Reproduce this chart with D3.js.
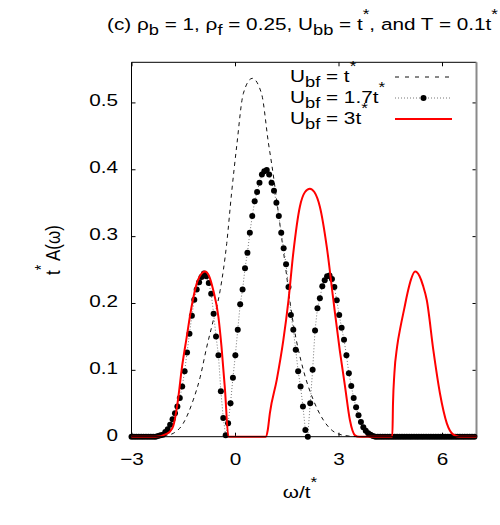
<!DOCTYPE html>
<html>
<head>
<meta charset="utf-8">
<script src="https://cdn.jsdelivr.net/npm/d3@7"></script>
<style>
body { margin: 0; background: #fff; }
svg { display: block; }
text { font-family: "Liberation Sans", Arial, Helvetica, sans-serif; fill: #000; }
</style>
</head>
<body>
<div id="chart"></div>
<script>
// axis ticks
const xTicks = [-3, 0, 3, 6];
const yTicks = [0, 0.1, 0.2, 0.3, 0.4, 0.5];
const yTickLabels = ["0", "0.1", "0.2", "0.3", "0.4", "0.5"];

// U_bf = t*  (dashed), [omega, A]
const curveT1 = [
  [-3, 0], [-2.4, 0], [-2.0, 0.002], [-1.79, 0.005], [-1.5, 0.020], [-1.21, 0.055],
  [-1.01, 0.089], [-0.82, 0.134], [-0.63, 0.174], [-0.43, 0.219], [-0.24, 0.289],
  [-0.10, 0.364], [0.05, 0.435], [0.24, 0.513], [0.50, 0.536], [0.77, 0.513],
  [0.97, 0.439], [1.06, 0.409], [1.40, 0.279], [1.69, 0.169], [1.98, 0.100],
  [2.27, 0.055], [2.56, 0.025], [2.95, 0.005], [3.3, 0.001], [3.6, 0], [7, 0]
];

// U_bf = 1.7t*  (points), sampled from omega = -3 every 0.07
const dotStart = -3;
const dotStep = 0.07;
const curveT17 = [
  0, 0, 0, 0, 0, 0, 0, 0, 0, 0,
  0, 0.001, 0.002, 0.003, 0.007, 0.011, 0.018, 0.026, 0.035, 0.045,
  0.058, 0.075, 0.098, 0.126, 0.154, 0.181, 0.205, 0.220, 0.231, 0.239,
  0.244, 0.240, 0.230, 0.214, 0.184, 0.150, 0.122, 0.068, 0.028, 0.002,
  0.020, 0.050, 0.088, 0.122, 0.160, 0.198, 0.220, 0.252, 0.275, 0.305,
  0.330, 0.352, 0.366, 0.380, 0.392, 0.397, 0.399, 0.392, 0.380, 0.368,
  0.350, 0.330, 0.305, 0.282, 0.258, 0.224, 0.182, 0.160, 0.130, 0.098,
  0.075, 0.045, 0.010, 0.000, 0.050, 0.100, 0.159, 0.192, 0.207, 0.225,
  0.234, 0.240, 0.241, 0.236, 0.224, 0.204, 0.182, 0.163, 0.145, 0.122,
  0.095, 0.076, 0.058, 0.044, 0.032, 0.022, 0.014, 0.009, 0.005, 0.003,
  0.001, 0, 0, 0, 0, 0, 0, 0, 0, 0,
  0, 0, 0, 0, 0, 0, 0, 0, 0, 0,
  0, 0, 0, 0, 0, 0, 0, 0, 0, 0,
  0, 0, 0, 0, 0, 0, 0, 0, 0, 0,
  0, 0, 0
];

// U_bf = 3t  (red)
const curveT3 = [
  [-3, 0], [-2.3, 0], [-2.0, 0.004], [-1.88, 0.008], [-1.79, 0.016], [-1.64, 0.060],
  [-1.55, 0.099], [-1.40, 0.149], [-1.26, 0.194], [-1.11, 0.229], [-0.97, 0.244],
  [-0.87, 0.247], [-0.75, 0.240], [-0.63, 0.219], [-0.48, 0.179], [-0.39, 0.134],
  [-0.29, 0.070], [-0.19, 0], [0.89, 0], [0.95, 0.010], [1.01, 0.035], [1.21, 0.085],
  [1.40, 0.144], [1.55, 0.204], [1.69, 0.275], [1.88, 0.344], [2.03, 0.366],
  [2.17, 0.371], [2.30, 0.366], [2.46, 0.344], [2.66, 0.284], [2.85, 0.205],
  [3.04, 0.128], [3.19, 0.075], [3.33, 0.025], [3.48, 0.002], [3.6, 0], [4.56, 0],
  [4.58, 0.050], [4.62, 0.095], [4.70, 0.135], [4.80, 0.165], [4.90, 0.190],
  [5.0, 0.215], [5.1, 0.235], [5.22, 0.247], [5.35, 0.240], [5.45, 0.226],
  [5.56, 0.204], [5.75, 0.129], [5.94, 0.065], [6.14, 0.020], [6.33, 0.003],
  [6.5, 0], [7, 0]
];

const W = 500, H = 525;
const pLeft = 131.5, pRight = 476.5, pTop = 62.3, pBottom = 436.7;
const sx = 1.22; // text is drawn a bit wide

const svg = d3.select("#chart").append("svg")
  .attr("width", W).attr("height", H);

const x = d3.scaleLinear().domain([-3, 7]).range([pLeft, pRight]);
const y = d3.scaleLinear().domain([0, 0.56]).range([pBottom, pTop]);

// text with sub/superscripts: parts = [[str, kind]]
function richText(px, py, parts, size, anchor, rot) {
  let tf = `translate(${px},${py}) scale(${sx},1)`;
  if (rot) tf += " rotate(-90)";
  const t = svg.append("text")
    .attr("transform", tf)
    .attr("font-size", size)
    .attr("text-anchor", anchor || "start");
  let shift = 0;
  parts.forEach(p => {
    const s = t.append("tspan").text(p[0]);
    let want = 0;
    if (p[1] == "sub") { want = 5; s.attr("font-size", size - 2); }
    if (p[1] == "sup") { want = -11; s.attr("font-size", size - 3); }
    if (want - shift != 0) s.attr("dy", want - shift);
    shift = want;
  });
  return t;
}

// axes (ticks inward, mirrored)
const axB = svg.append("g").attr("transform", `translate(0,${pBottom})`)
  .call(d3.axisBottom(x).tickValues(xTicks).tickSizeInner(-4).tickSizeOuter(0).tickPadding(16));
const axT = svg.append("g").attr("transform", `translate(0,${pTop})`)
  .call(d3.axisTop(x).tickValues(xTicks).tickFormat("").tickSizeInner(-4).tickSizeOuter(0));
const axL = svg.append("g").attr("transform", `translate(${pLeft},0)`)
  .call(d3.axisLeft(y).tickValues(yTicks).tickFormat((d, i) => yTickLabels[i]).tickSizeInner(-4).tickSizeOuter(0).tickPadding(13.5));
const axR = svg.append("g").attr("transform", `translate(${pRight},0)`)
  .call(d3.axisRight(y).tickValues(yTicks).tickFormat("").tickSizeInner(-4).tickSizeOuter(0));

[axB, axT, axL, axR].forEach(a => {
  a.attr("font-family", null).attr("font-size", 17);
  a.select(".domain").remove();
  a.selectAll(".tick line").attr("stroke", "#000");
});
axB.selectAll("text").attr("transform", `scale(${sx},1)`);
axL.selectAll("text").attr("x", -13.5 / sx).attr("dy", "0.2em").attr("transform", `scale(${sx},1)`);

// frame
svg.append("line").attr("x1", pLeft).attr("x2", pRight).attr("y1", pTop).attr("y2", pTop)
  .attr("stroke", "#000");
svg.append("line").attr("x1", pLeft).attr("x2", pLeft).attr("y1", pTop).attr("y2", pBottom)
  .attr("stroke", "#000");
svg.append("line").attr("x1", pRight).attr("x2", pRight).attr("y1", pTop).attr("y2", pBottom)
  .attr("stroke", "#8a8a8a").attr("stroke-width", 2);

// curves
const line = d3.line().x(d => x(d[0])).y(d => y(d[1])).curve(d3.curveMonotoneX);

svg.append("path").datum(curveT1)
  .attr("d", line).attr("fill", "none")
  .attr("stroke", "#111").attr("stroke-width", 1).attr("stroke-dasharray", "4,4");

const dots = curveT17.map((v, i) => [dotStart + i * dotStep, v]);
svg.append("path").datum(dots)
  .attr("d", d3.line().x(d => x(d[0])).y(d => y(d[1])))
  .attr("fill", "none").attr("stroke", "#777").attr("stroke-width", 1)
  .attr("stroke-dasharray", "1,2");
svg.append("g").selectAll("circle").data(dots).enter()
  .append("circle")
  .attr("cx", d => x(d[0])).attr("cy", d => y(d[1]))
  .attr("r", 3).attr("fill", "#000");

svg.append("path").datum(curveT3)
  .attr("d", line).attr("fill", "none")
  .attr("stroke", "#ff0000").attr("stroke-width", 2);

// bottom axis line on top
svg.append("line").attr("x1", pLeft).attr("x2", pRight).attr("y1", pBottom).attr("y2", pBottom)
  .attr("stroke", "#000");

// legend
const legX1 = 395, legX2 = 452;
const legRows = [77, 98, 119];
richText(290, legRows[0] + 5, [["U"], ["bf", "sub"], [" = t"], ["*", "sup"]], 17);
richText(290, legRows[1] + 5, [["U"], ["bf", "sub"], [" = 1.7t"], ["*", "sup"]], 17);
richText(290, legRows[2] + 5, [["U"], ["bf", "sub"], [" = 3t"], ["*", "sup"]], 17);
svg.append("line").attr("x1", legX1).attr("x2", legX2).attr("y1", legRows[0]).attr("y2", legRows[0])
  .attr("stroke", "#111").attr("stroke-dasharray", "4,6");
svg.append("line").attr("x1", legX1).attr("x2", legX2).attr("y1", legRows[1]).attr("y2", legRows[1])
  .attr("stroke", "#777").attr("stroke-dasharray", "1,2");
svg.append("circle").attr("cx", (legX1 + legX2) / 2).attr("cy", legRows[1]).attr("r", 3).attr("fill", "#000");
svg.append("line").attr("x1", legX1).attr("x2", legX2).attr("y1", legRows[2]).attr("y2", legRows[2])
  .attr("stroke", "#ff0000").attr("stroke-width", 2);

// title and axis labels
richText(107, 30, [["(c) ρ"], ["b", "sub"], [" = 1, ρ"], ["f", "sub"], [" = 0.25, U"], ["bb", "sub"],
  [" = t"], ["*", "sup"], [", and T = 0.1t"], ["*", "sup"]], 17);
richText(300, 498, [["ω/t"], ["*", "sup"]], 17, "middle");
richText(60, 250, [["t"], ["*", "sup"], [" A(ω)"]], 17, "middle", true);
</script>
</body>
</html>
